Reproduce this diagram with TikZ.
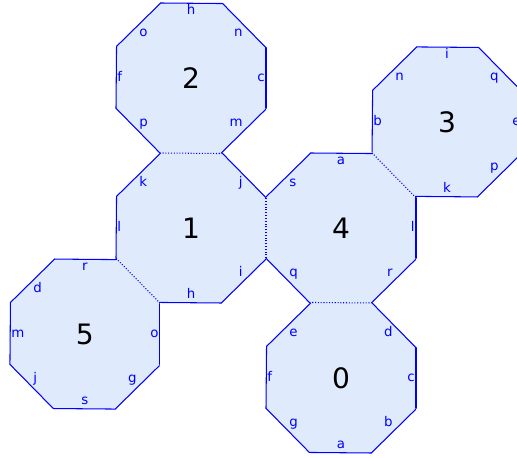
\documentclass[tikz,border=0pt]{standalone}
\usepackage{fontspec}
\setmainfont{DejaVu Sans}
\usetikzlibrary{shapes.geometric}
\definecolor{cellfill}{HTML}{DFEBFC}
\definecolor{celledge}{HTML}{0000FF}

\begin{document}
\begin{tikzpicture}[
  x=3cm, y=3cm,
  cell/.style={
    regular polygon, regular polygon sides=8,
    minimum size=3.2472cm, inner sep=0pt, outer sep=0pt,
    draw=none, fill=cellfill,
    font=\fontsize{16}{18}\selectfont, text=black
  },
  rim/.style={draw=celledge, line width=0.6pt, line cap=round},
  seam/.style={draw=celledge, line width=0.6pt, dash pattern=on 0.6pt off 1pt},
  lab/.style={
    font=\fontsize{7.6}{9}\selectfont, text=celledge,
    inner sep=0.6pt, text height=5.8pt, text depth=1.8pt
  }
]
\useasboundingbox (-3.82cm,-4.60cm) rectangle (6.52cm,4.56cm);

%=== CELLS ===
\node[cell] (c1) at (0,0) {1};
\node[cell] (c2) at (0,1) {2};
\node[cell] (c4) at (1,0) {4};
\node[cell] (c3) at (1.7071,0.7071) {3};
\node[cell] (c5) at (-0.7071,-0.7071) {5};
\node[cell] (c0) at (1,-1) {0};

%=== OPEN SIDES WITH LABELS ===
\foreach \m/\t/\anc [evaluate=\m as \lo using \m-22.5, evaluate=\m as \hi using \m+22.5] in
  {90/h/north, 135/o/north west, 180/f/west, 225/p/south west,
   315/m/south east, 0/c/east, 45/n/north east}{
  \draw[rim] (c2.\lo) -- (c2.\hi);
  \node[lab, anchor=\anc] at (c2.\m) {\t};
}
\foreach \m/\t/\anc [evaluate=\m as \lo using \m-22.5, evaluate=\m as \hi using \m+22.5] in
  {135/k/north west, 180/l/west, 270/h/south, 315/i/south east, 45/j/north east}{
  \draw[rim] (c1.\lo) -- (c1.\hi);
  \node[lab, anchor=\anc] at (c1.\m) {\t};
}
\foreach \m/\t/\anc [evaluate=\m as \lo using \m-22.5, evaluate=\m as \hi using \m+22.5] in
  {90/a/north, 135/s/north west, 225/q/south west, 315/r/south east, 0/l/east}{
  \draw[rim] (c4.\lo) -- (c4.\hi);
  \node[lab, anchor=\anc] at (c4.\m) {\t};
}
\foreach \m/\t/\anc [evaluate=\m as \lo using \m-22.5, evaluate=\m as \hi using \m+22.5] in
  {90/i/north, 135/n/north west, 180/b/west, 270/k/south,
   315/p/south east, 0/e/east, 45/q/north east}{
  \draw[rim] (c3.\lo) -- (c3.\hi);
  \node[lab, anchor=\anc] at (c3.\m) {\t};
}
\foreach \m/\t/\anc [evaluate=\m as \lo using \m-22.5, evaluate=\m as \hi using \m+22.5] in
  {90/r/north, 135/d/north west, 180/m/west, 225/j/south west,
   270/s/south, 315/g/south east, 0/o/east}{
  \draw[rim] (c5.\lo) -- (c5.\hi);
  \node[lab, anchor=\anc] at (c5.\m) {\t};
}
\foreach \m/\t/\anc [evaluate=\m as \lo using \m-22.5, evaluate=\m as \hi using \m+22.5] in
  {135/e/north west, 180/f/west, 225/g/south west, 270/a/south,
   315/b/south east, 0/c/east, 45/d/north east}{
  \draw[rim] (c0.\lo) -- (c0.\hi);
  \node[lab, anchor=\anc] at (c0.\m) {\t};
}

%=== SHARED SIDES ===
\draw[seam] (c1.67.5)  -- (c1.112.5);
\draw[seam] (c1.-22.5) -- (c1.22.5);
\draw[seam] (c1.202.5) -- (c1.247.5);
\draw[seam] (c4.22.5)  -- (c4.67.5);
\draw[seam] (c4.247.5) -- (c4.292.5);

\end{tikzpicture}
\end{document}
